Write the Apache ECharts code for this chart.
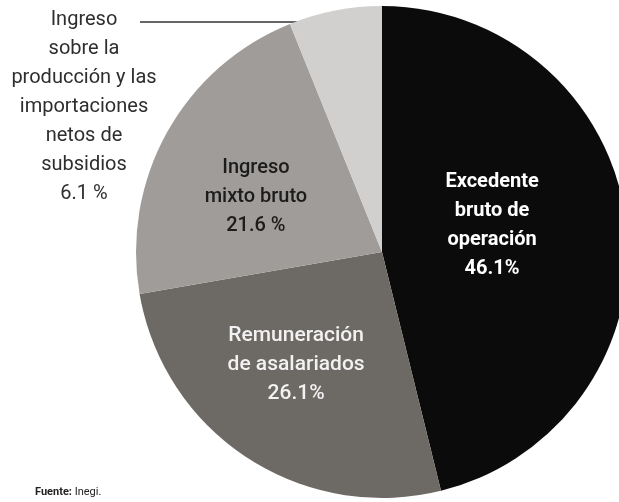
<!DOCTYPE html>
<html>
<head>
<meta charset="utf-8">
<script src="https://cdn.jsdelivr.net/npm/echarts@6/dist/echarts.min.js"></script>
<style>
html,body{margin:0;padding:0;background:#fff;}
#chart{width:619px;height:502px;}
</style>
</head>
<body>
<div id="chart"></div>
<script>
// ---- data ----
const categories = [
  'Excedente\nbruto de\noperación',
  'Remuneración\nde asalariados',
  'Ingreso\nmixto bruto',
  'Ingreso\nsobre la\nproducción y las\nimportaciones\nnetos de\nsubsidios'
];
const values = [46.1, 26.1, 21.6, 6.1];
const valueLabels = ['46.1%', '26.1%', '21.6 %', '6.1 %'];
const sourceText = 'Inegi.';

// ---- styles ----
const sliceColors = ['#0b0b0b', '#6d6964', '#9f9c99', '#d2d0ce'];
const labelColors = ['#ffffff', '#f2f2f2', '#1c1c1c', '#2e2e2e'];
const labelWeights = [700, 500, 500, 400];
const labelSizes = [20, 21, 20, 20];
const labelShift = [[-15, -11], [-17, 7], [-16, 6]];

const chart = echarts.init(document.getElementById('chart'), null, {renderer: 'canvas'});

const data = categories.map((c, i) => ({
  name: c,
  value: values[i],
  itemStyle: {color: sliceColors[i]},
  label: {
    position: i === 3 ? 'outside' : 'inside',
    color: labelColors[i],
    fontWeight: labelWeights[i],
    fontSize: labelSizes[i],
    formatter: () => c + '\n' + valueLabels[i]
  },
  labelLine: {show: i === 3}
}));

chart.setOption({
  animation: false,
  backgroundColor: '#ffffff',
  series: [{
    type: 'pie',
    center: [382, 252],
    radius: 246,
    startAngle: 90,
    clockwise: true,
    avoidLabelOverlap: false,
    silent: true,
    emphasis: {disabled: true},
    label: {
      show: true,
      fontFamily: 'Roboto',
      fontSize: 20,
      lineHeight: 29,
      align: 'center'
    },
    labelLine: {
      lineStyle: {color: '#333333', width: 1.3}
    },
    labelLayout: function (p) {
      if (p.dataIndex < 3) {
        return {dx: labelShift[p.dataIndex][0], dy: labelShift[p.dataIndex][1]};
      }
      return {
        x: 84, y: 107, align: 'center', verticalAlign: 'middle',
        labelLinePoints: [[343, 22], [240, 22], [140, 22]]
      };
    },
    data: data
  }],
  graphic: [{
    type: 'text',
    left: 35,
    top: 487,
    style: {
      text: '{b|Fuente:} ' + sourceText,
      fontFamily: 'Roboto',
      fontSize: 11,
      fill: '#222',
      rich: {b: {fontWeight: 700, fontSize: 11, fontFamily: 'Roboto', fill: '#222'}}
    }
  }]
});
</script>
</body>
</html>
